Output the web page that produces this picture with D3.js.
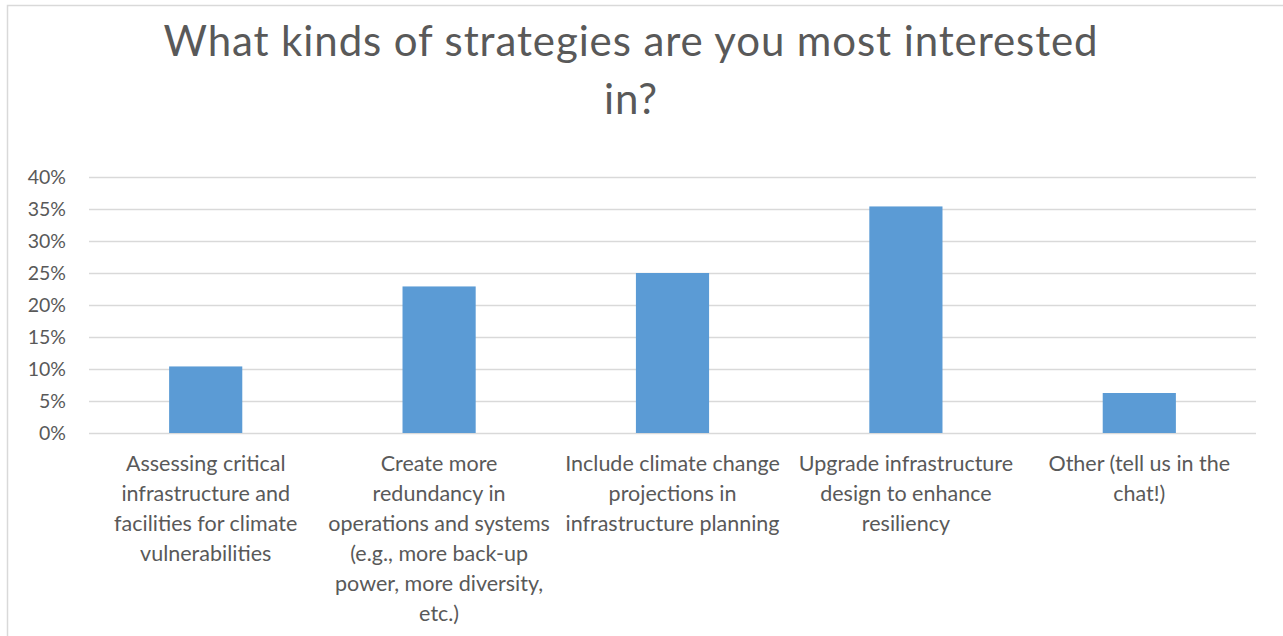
<!DOCTYPE html>
<html>
<head>
<meta charset="utf-8">
<style>
  body { margin: 0; background: #fff; }
  svg { display: block; }
  text { font-family: Lato, "Open Sans", sans-serif; fill: #595959; }
</style>
</head>
<body>
<div id="chart"></div>
<script src="https://d3js.org/d3.v7.min.js"></script>
<script>
// chart data
const titleLines = ["What kinds of strategies are you most interested", "in?"];
const categories = [
  ["Assessing critical", "infrastructure and", "facilities for climate", "vulnerabilities"],
  ["Create more", "redundancy in", "operations and systems", "(e.g., more back-up", "power, more diversity,", "etc.)"],
  ["Include climate change", "projections in", "infrastructure planning"],
  ["Upgrade infrastructure", "design to enhance", "resiliency"],
  ["Other (tell us in the", "chat!)"]
];
const values = [0.104, 0.229, 0.25, 0.354, 0.0625];
const yTicks = [0, 0.05, 0.10, 0.15, 0.20, 0.25, 0.30, 0.35, 0.40];

const width = 1283, height = 636;
const plot = { left: 89, right: 1256, top: 177, bottom: 433 };

const svg = d3.select("#chart").append("svg")
  .attr("width", width)
  .attr("height", height);

// chart area border (right/bottom edges fall outside the picture)
svg.append("rect")
  .attr("x", 7.5).attr("y", 5.5)
  .attr("width", width + 20).attr("height", height + 20)
  .attr("fill", "#fff")
  .attr("stroke", "#d9d9d9")
  .attr("stroke-width", 1.5);

const x = d3.scaleBand()
  .domain(d3.range(categories.length))
  .range([plot.left, plot.right])
  .padding(0);

const y = d3.scaleLinear()
  .domain([0, 0.40])
  .range([plot.bottom, plot.top]);

// gridlines
svg.append("g")
  .selectAll("line")
  .data(yTicks)
  .join("line")
  .attr("x1", plot.left)
  .attr("x2", plot.right)
  .attr("y1", d => y(d) + 0.5)
  .attr("y2", d => y(d) + 0.5)
  .attr("stroke", "#d9d9d9")
  .attr("stroke-width", 1.5);

// y axis labels
const yAxis = svg.append("g")
  .attr("transform", `translate(${plot.left - 23},0)`)
  .call(d3.axisLeft(y).tickValues(yTicks).tickFormat(d3.format(".0%")).tickSize(0).tickPadding(0));
yAxis.select(".domain").remove();
yAxis.selectAll("text")
  .style("font-size", "19.5px")
  .attr("fill", "#595959")
  .style("font-family", "Lato, 'Open Sans', sans-serif");

// bars (gap width ~219%)
const barW = x.bandwidth() / 3.19;
svg.append("g")
  .selectAll("rect")
  .data(values)
  .join("rect")
  .attr("x", (d, i) => x(i) + (x.bandwidth() - barW) / 2)
  .attr("y", d => y(d))
  .attr("width", barW)
  .attr("height", d => y(0) - y(d))
  .attr("fill", "#5b9bd5");

// category labels
const catG = svg.append("g")
  .selectAll("text")
  .data(categories)
  .join("text")
  .attr("text-anchor", "middle")
  .style("font-size", "21.5px")
  .attr("transform", (d, i) => `translate(${x(i) + x.bandwidth() / 2},471)`);
catG.selectAll("tspan")
  .data(d => d)
  .join("tspan")
  .attr("x", 0)
  .attr("y", (d, i) => i * 30)
  .text(d => d);

// title
svg.append("g")
  .selectAll("text")
  .data(titleLines)
  .join("text")
  .attr("x", 631)
  .attr("y", (d, i) => 56 + i * 58)
  .attr("text-anchor", "middle")
  .style("font-size", "42px")
  .style("letter-spacing", "0.9px")
  .text(d => d);
</script>
</body>
</html>
